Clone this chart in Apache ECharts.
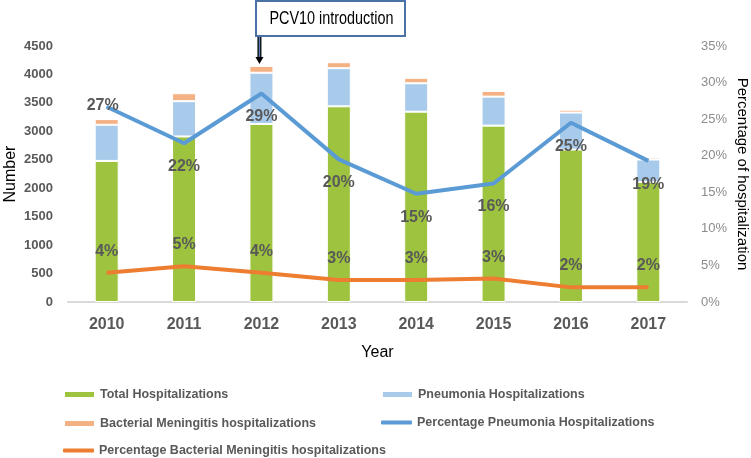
<!DOCTYPE html>
<html>
<head>
<meta charset="utf-8">
<script src="https://cdn.jsdelivr.net/npm/echarts@6/dist/echarts.min.js"></script>
<style>html,body{margin:0;padding:0;background:#fff}#c{width:751px;height:458px}</style>
</head>
<body>
<div id="c"></div>
<script>
const years = ['2010','2011','2012','2013','2014','2015','2016','2017'];
const totalHosp = [2480, 2910, 3130, 3440, 3345, 3100, 2680, 2110];
const pneumoniaHosp = [635, 620, 900, 670, 500, 510, 650, 395];
const meningitisHosp = [100, 140, 120, 105, 95, 100, 50, 35];
const pctPneumonia = [26.7, 21.7, 28.5, 19.5, 14.8, 16.2, 24.5, 19.3];
const pctMeningitis = [4.0, 4.9, 4.0, 3.0, 3.0, 3.2, 2.0, 2.0];
const leftTicks = {min: 0, max: 4500, interval: 500};
const rightTicks = {min: 0, max: 35, interval: 5};

const FONT = 'Liberation Sans';
const GRAY = '#595959';
const chart = echarts.init(document.getElementById('c'), null, {renderer: 'canvas'});

const pctLabel = {
  show: true, fontFamily: FONT, fontSize: 16, fontWeight: 'bold', color: GRAY,
  formatter: p => Math.round(p.value) + '%'
};

const legendBase = {
  itemWidth: 31, itemGap: 4,
  textStyle: {fontFamily: FONT, fontSize: 12.5, color: GRAY, fontWeight: 'bold'},
  selectedMode: false, padding: 0
};

const option = {
  animation: false,
  backgroundColor: '#fff',
  grid: {left: 68, right: 64, top: 46, bottom: 156, containLabel: false, outerBoundsMode: 'none'},
  xAxis: {
    type: 'category', data: years,
    name: 'Year', nameLocation: 'middle', nameGap: 43, nameMoveOverlap: false,
    nameTextStyle: {fontFamily: FONT, fontSize: 16, color: '#000'},
    axisLine: {lineStyle: {color: '#d9d9d9', width: 2}},
    axisTick: {show: false},
    axisLabel: {fontFamily: FONT, fontSize: 16, fontWeight: 'bold', color: GRAY, margin: 15}
  },
  yAxis: [{
    type: 'value', min: leftTicks.min, max: leftTicks.max, interval: leftTicks.interval,
    name: 'Number', nameLocation: 'middle', nameGap: 49, nameRotate: 90, nameMoveOverlap: false,
    nameTextStyle: {fontFamily: FONT, fontSize: 16, color: '#000'},
    splitLine: {show: false}, axisLine: {show: false}, axisTick: {show: false},
    axisLabel: {fontFamily: FONT, fontSize: 13, fontWeight: 'bold', color: GRAY, margin: 15,
                formatter: v => String(v)}
  }, {
    type: 'value', min: rightTicks.min, max: rightTicks.max, interval: rightTicks.interval,
    name: 'Percentage of hospitalization', nameLocation: 'middle', nameGap: 48, nameRotate: -90,
    nameMoveOverlap: false,
    nameTextStyle: {fontFamily: FONT, fontSize: 15, color: '#000'},
    splitLine: {show: false}, axisLine: {show: false}, axisTick: {show: false},
    axisLabel: {fontFamily: FONT, fontSize: 13, color: '#8c8c8c', margin: 14, formatter: '{value}%'}
  }],
  legend: [
    Object.assign({}, legendBase, {left: 63, top: 388, itemHeight: 7, data: [{name: 'Total Hospitalizations', icon: 'rect'}]}),
    Object.assign({}, legendBase, {left: 381, top: 388, itemHeight: 7, data: [{name: 'Pneumonia Hospitalizations', icon: 'rect'}]}),
    Object.assign({}, legendBase, {left: 63, top: 417, itemHeight: 7, data: [{name: 'Bacterial Meningitis hospitalizations', icon: 'rect'}]}),
    Object.assign({}, legendBase, {left: 381, top: 416, itemHeight: 4, data: [{name: 'Percentage Pneumonia Hospitalizations', icon: 'roundRect'}]}),
    Object.assign({}, legendBase, {left: 63, top: 444, itemHeight: 4, data: [{name: 'Percentage Bacterial Meningitis hospitalizations', icon: 'roundRect'}]})
  ],
  series: [
    {name: 'Total Hospitalizations', type: 'bar', stack: 'h', data: totalHosp, barWidth: 24,
     itemStyle: {color: '#9DC33F', borderColor: '#fff', borderWidth: 1}},
    {name: 'Pneumonia Hospitalizations', type: 'bar', stack: 'h', data: pneumoniaHosp,
     itemStyle: {color: '#A9CBEB', borderColor: '#fff', borderWidth: 1}},
    {name: 'Bacterial Meningitis hospitalizations', type: 'bar', stack: 'h', data: meningitisHosp,
     itemStyle: {color: '#F4B183', borderColor: '#fff', borderWidth: 1}},
    {name: 'Percentage Pneumonia Hospitalizations', type: 'line', yAxisIndex: 1,
     data: pctPneumonia.map((v, i) => i === 0 ? {value: v, label: {position: 'inside', offset: [-4, -1]}} : v),
     symbol: 'circle', symbolSize: 1, showSymbol: true,
     lineStyle: {color: '#5B9BD5', width: 4}, itemStyle: {color: '#5B9BD5'},
     label: Object.assign({}, pctLabel, {position: 'bottom', distance: 15}), z: 5},
    {name: 'Percentage Bacterial Meningitis hospitalizations', type: 'line', yAxisIndex: 1,
     data: pctMeningitis, symbol: 'circle', symbolSize: 1, showSymbol: true,
     lineStyle: {color: '#ED7D31', width: 4}, itemStyle: {color: '#ED7D31'},
     label: Object.assign({}, pctLabel, {position: 'top', distance: 13}), z: 5}
  ]
};
chart.setOption(option);

// Annotation: box and arrow pointing to 2012 bar
const idx = years.indexOf('2012');
const topVal = totalHosp[idx] + pneumoniaHosp[idx] + meningitisHosp[idx];
const pt = chart.convertToPixel({xAxisIndex: 0, yAxisIndex: 0}, [years[idx], topVal]);
const ax = pt[0] - 2;
const tipY = pt[1] - 2;
chart.setOption({
  graphic: [
    {type: 'rect', shape: {x: 256, y: 1, width: 149, height: 35},
     style: {fill: '#fff', stroke: '#4A72A6', lineWidth: 2}, z: 10},
    {type: 'text', x: 331.5, y: 19, scaleX: 0.8,
     style: {text: 'PCV10 introduction', font: '18px "Liberation Sans"', fill: '#000', align: 'center', verticalAlign: 'middle'}, z: 11},
    {type: 'line', shape: {x1: ax, y1: 37, x2: ax, y2: tipY - 6},
     style: {stroke: '#000', lineWidth: 4}, z: 10},
    {type: 'line', shape: {x1: ax, y1: 37, x2: ax, y2: tipY - 7},
     style: {stroke: '#5B7FB5', lineWidth: 1.5}, z: 11},
    {type: 'polygon', shape: {points: [[ax - 4, tipY - 7], [ax + 4, tipY - 7], [ax, tipY]]},
     style: {fill: '#000'}, z: 10}
  ]
});
</script>
</body>
</html>
